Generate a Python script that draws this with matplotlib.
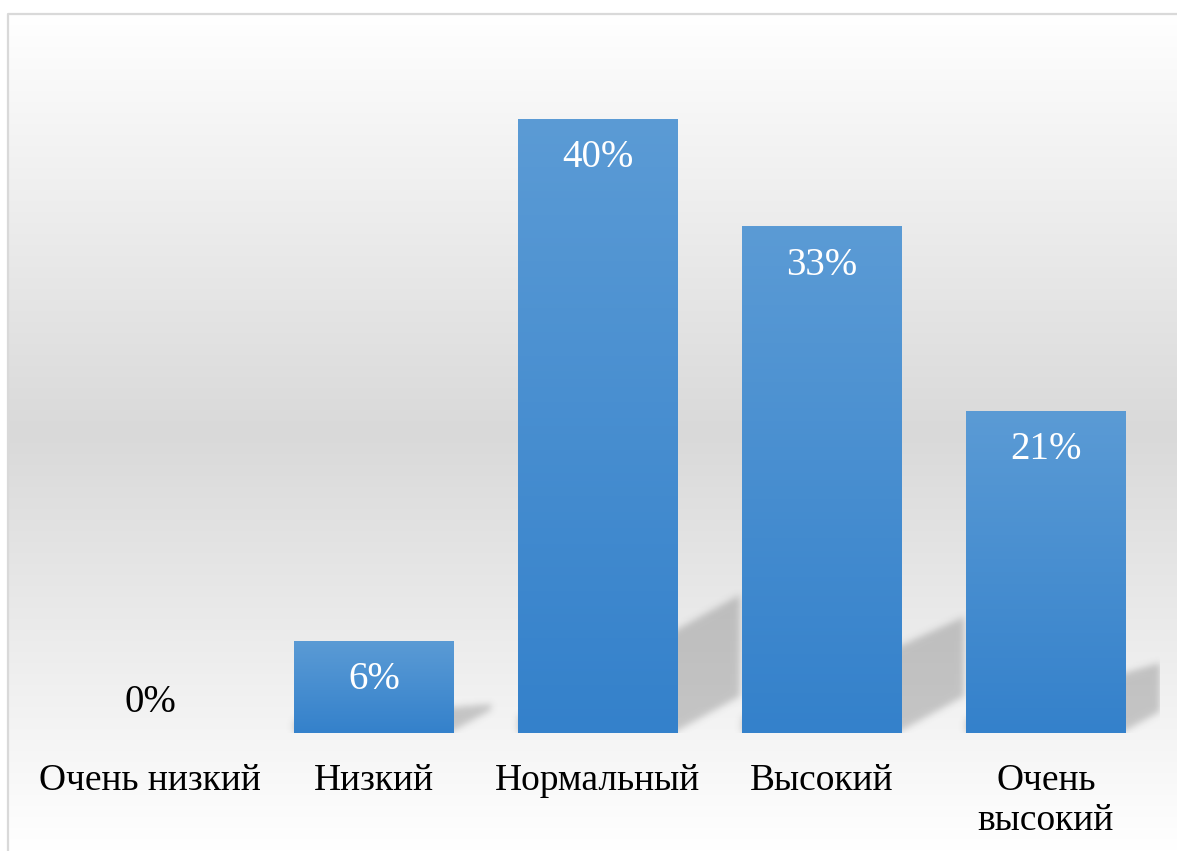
import numpy as np
import matplotlib
matplotlib.use("Agg")
import matplotlib.pyplot as plt
from matplotlib.colors import LinearSegmentedColormap

plt.rcParams['font.family'] = ['Liberation Serif', 'DejaVu Serif']

# data
categories = ["Очень низкий", "Низкий", "Нормальный", "Высокий", "Очень\nвысокий"]
values = [0, 6, 40, 33, 21]
value_labels = ["0%", "6%", "40%", "33%", "21%"]

W_PX, H_PX = 1177, 851
fig = plt.figure(figsize=(W_PX / 100, H_PX / 100), dpi=100)
fig.patch.set_facecolor("white")

# background gradient + thin border
bg = fig.add_axes([0, 0, 1, 1], zorder=0)
bg.set_axis_off()
yy = np.arange(14, H_PX + 1)
mid = 432.0
shade = np.where(yy < mid,
                 1.0 - (yy - 14) / (mid - 14) * (38 / 255),
                 (217 + (yy - mid) / (H_PX - mid) * 38) / 255)
bg_img = np.repeat(shade[:, None, None], 3, axis=2)
bg.imshow(bg_img, extent=(8, W_PX, H_PX, 14), aspect='auto', origin='upper',
          interpolation='bilinear')
bg.plot([8, 8, W_PX], [H_PX, 14, 14], color="#d9d9d9", lw=1.6, solid_capstyle='butt')
bg.set_xlim(0, W_PX)
bg.set_ylim(H_PX, 0)

# main axes
left_px, right_px, base_px, top_px = 38, 1160, 733, 58
ax = fig.add_axes([left_px / W_PX, 1 - base_px / H_PX,
                   (right_px - left_px) / W_PX, (base_px - top_px) / H_PX], zorder=1)
ax.patch.set_alpha(0)
px_per_cat = 224.0
px_per_pct = 15.35
xlim = (-0.5, -0.5 + (right_px - left_px) / px_per_cat)
ylim = (0, (base_px - top_px) / px_per_pct)
bw = 160 / 224

x = np.arange(len(categories))

# soft perspective shadows behind bars
Wa, Ha = right_px - left_px, base_px - top_px
Xg, Yg = np.meshgrid(np.arange(Wa) + 0.5, np.arange(Ha) + 0.5)
mask = np.zeros((Ha, Wa))
for xi, v in zip(x, values):
    if v <= 0:
        continue
    h = v * px_per_pct
    xr = (xi + bw / 2 - xlim[0]) * px_per_cat
    u = Xg - xr
    bottom = np.maximum(0, 0.55 * (u + 5))
    top = 0.15 * h + 12 + 0.0009 * h * u
    m = (u >= -bw * px_per_cat) & (u <= min(0.4 * h, 62)) & (Yg >= bottom) & (Yg <= top)
    mask = np.maximum(mask, m.astype(float))
sig = 3.5
k = np.exp(-0.5 * (np.arange(-12, 13) / sig) ** 2)
k /= k.sum()
mask = np.apply_along_axis(lambda r: np.convolve(r, k, mode='same'), 1, mask)
mask = np.apply_along_axis(lambda c: np.convolve(c, k, mode='same'), 0, mask)
sh = np.zeros((Ha, Wa, 4))
sh[..., :3] = 0.4
sh[..., 3] = mask * 0.33
ax.imshow(sh, extent=(xlim[0], xlim[1], ylim[0], ylim[1]), origin='lower',
          aspect='auto', zorder=1, interpolation='bilinear')

# bars with vertical gradient
cmap = LinearSegmentedColormap.from_list("bar", ["#3481cb", "#5b9bd5"])
grad = np.linspace(0, 1, 256).reshape(-1, 1)
bars = ax.bar(x, values, width=bw, color="#4a8fd0", zorder=2, linewidth=0)
for b in bars:
    if b.get_height() <= 0:
        continue
    im = ax.imshow(grad, extent=(b.get_x(), b.get_x() + b.get_width(), 0, b.get_height()),
                   origin='lower', aspect='auto', cmap=cmap, zorder=3)
    im.set_clip_path(b)

# value labels
for xi, v, lab in zip(x, values, value_labels):
    if v > 0:
        ax.annotate(lab, (xi, v), xytext=(0, -28), textcoords='offset points',
                    ha='center', va='center', color='white', fontsize=28, zorder=4)
    else:
        ax.annotate(lab, (xi, v), xytext=(0, 22), textcoords='offset points',
                    ha='center', va='center', color='black', fontsize=28, zorder=4)

ax.set_xlim(*xlim)
ax.set_ylim(*ylim)
ax.set_xticks(x)
ax.set_xticklabels(categories, fontsize=27, linespacing=1.2)
ax.tick_params(axis='x', length=0, pad=22)
ax.set_yticks([])
for s in ax.spines.values():
    s.set_visible(False)

fig.savefig("out.png", dpi=100, facecolor="white")
